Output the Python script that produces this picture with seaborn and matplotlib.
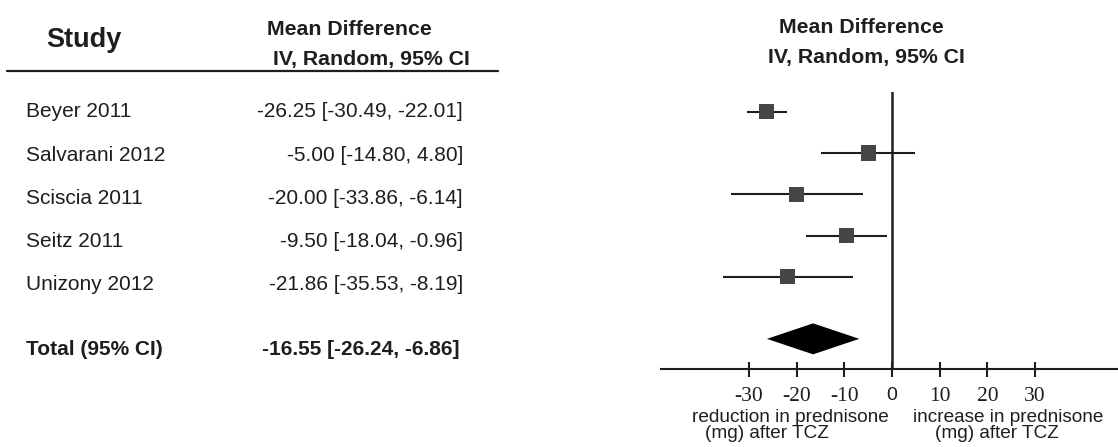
import numpy as np
import matplotlib
matplotlib.use("Agg")
import matplotlib.pyplot as plt
from matplotlib.lines import Line2D
import seaborn as sns

# ---------------- data ----------------
studies = ["Beyer 2011", "Salvarani 2012", "Sciscia 2011", "Seitz 2011", "Unizony 2012"]
md = [-26.25, -5.00, -20.00, -9.50, -21.86]
ci_lo = [-30.49, -14.80, -33.86, -18.04, -35.53]
ci_hi = [-22.01, 4.80, -6.14, -0.96, -8.19]
total_label = "Total (95% CI)"
total_md, total_lo, total_hi = -16.55, -26.24, -6.86
xticks = [-30, -20, -10, 0, 10, 20, 30]
xticklabels = ["-30", "-20", "-10", "0", "10", "20", "30"]

# ---------------- figure ----------------
sns.set_theme(style="white")
plt.rcParams["font.family"] = ["Liberation Sans", "DejaVu Sans"]

W, H = 1118, 447
fig = plt.figure(figsize=(W / 100, H / 100), dpi=100)
fig.patch.set_facecolor("white")


def fx(px):
    return px / W


def fy(py):
    return 1 - py / H


TXT = "#1e1e1e"

# ---------------- left table ----------------
fig.text(fx(46), fy(46.7), "Study", fontsize=19.5, fontweight="bold", color=TXT, va="baseline", ha="left")
fig.text(fx(267), fy(35), "Mean Difference", fontsize=15.3, fontweight="bold", color=TXT, va="baseline", ha="left")
fig.text(fx(273), fy(65), "IV, Random, 95% CI", fontsize=15.3, fontweight="bold", color=TXT, va="baseline", ha="left")
fig.add_artist(Line2D([fx(7), fx(498)], [fy(70.7), fy(70.7)], color=TXT, lw=1.6))

row_base0, row_step = 117.3, 43.25
for i, (name, m, lo, hi) in enumerate(zip(studies, md, ci_lo, ci_hi)):
    yb = row_base0 + i * row_step
    fig.text(fx(26), fy(yb), name, fontsize=15, color=TXT, va="baseline", ha="left")
    fig.text(fx(463), fy(yb), f"{m:.2f} [{lo:.2f}, {hi:.2f}]", fontsize=15, color=TXT,
             va="baseline", ha="right")

fig.text(fx(26), fy(355), total_label, fontsize=15, fontweight="bold", color=TXT, va="baseline", ha="left")
fig.text(fx(459), fy(355), f"{total_md:.2f} [{total_lo:.2f}, {total_hi:.2f}]", fontsize=15,
         fontweight="bold", color=TXT, va="baseline", ha="right")

# right header
fig.text(fx(861.7), fy(33.3), "Mean Difference", fontsize=15.3, fontweight="bold", color=TXT, va="baseline", ha="center")
fig.text(fx(866.7), fy(62.7), "IV, Random, 95% CI", fontsize=15.3, fontweight="bold", color=TXT, va="baseline", ha="center")

# ---------------- forest axes ----------------
ax_left, ax_right, ax_top, ax_bot = 661, 1118, 92, 369.3
ax = fig.add_axes([fx(ax_left), fy(ax_bot), (ax_right - ax_left) / W, (ax_bot - ax_top) / H])
ax.set_facecolor("none")

px_per_unit = 4.767
x0_px = 892
ax.set_xlim((ax_left - x0_px) / px_per_unit, (ax_right - x0_px) / px_per_unit)

rows = np.arange(len(studies))
total_row = len(studies) + 0.5
row0_px, row_px = 111.7, 41.3
ax.set_ylim((ax_bot - row0_px) / row_px, (ax_top - row0_px) / row_px)

ax.hlines(rows, ci_lo, ci_hi, color=TXT, lw=1.5, zorder=2)
sns.scatterplot(x=md, y=rows, marker="s", s=118, color="#454545", edgecolor="none",
                linewidth=0, ax=ax, zorder=3, legend=False)
ax.axvline(0, color=TXT, lw=1.8, zorder=4)

h = 0.375
ax.fill([total_lo, total_md, total_hi, total_md],
        [total_row, total_row - h, total_row, total_row + h],
        color="black", lw=0, zorder=3)

for s in ["top", "right", "left"]:
    ax.spines[s].set_visible(False)
ax.spines["bottom"].set_color(TXT)
ax.spines["bottom"].set_linewidth(1.5)
ax.set_yticks([])
ax.set_xticks(xticks)
ax.set_xticklabels(xticklabels)
ax.tick_params(axis="x", direction="inout", length=10.8, width=1.5, color=TXT, pad=7.6,
               labelcolor=TXT, bottom=True)
for lab in ax.get_xticklabels():
    if lab.get_text() == "0":
        lab.set_fontfamily(["Liberation Sans", "DejaVu Sans"])
        lab.set_fontsize(14)
    else:
        lab.set_fontfamily(["Liberation Serif", "DejaVu Serif"])
        lab.set_fontsize(15.5)
ax.grid(False)

# bottom captions
fig.text(fx(692), fy(421.7), "reduction in prednisone", fontsize=13.7, color=TXT, va="baseline", ha="left")
fig.text(fx(705), fy(437.5), "(mg) after TCZ", fontsize=13.7, color=TXT, va="baseline", ha="left")
fig.text(fx(913), fy(421.7), "increase in prednisone", fontsize=13.7, color=TXT, va="baseline", ha="left")
fig.text(fx(935), fy(437.5), "(mg) after TCZ", fontsize=13.7, color=TXT, va="baseline", ha="left")

fig.savefig("out.png", dpi=100, facecolor="white")
